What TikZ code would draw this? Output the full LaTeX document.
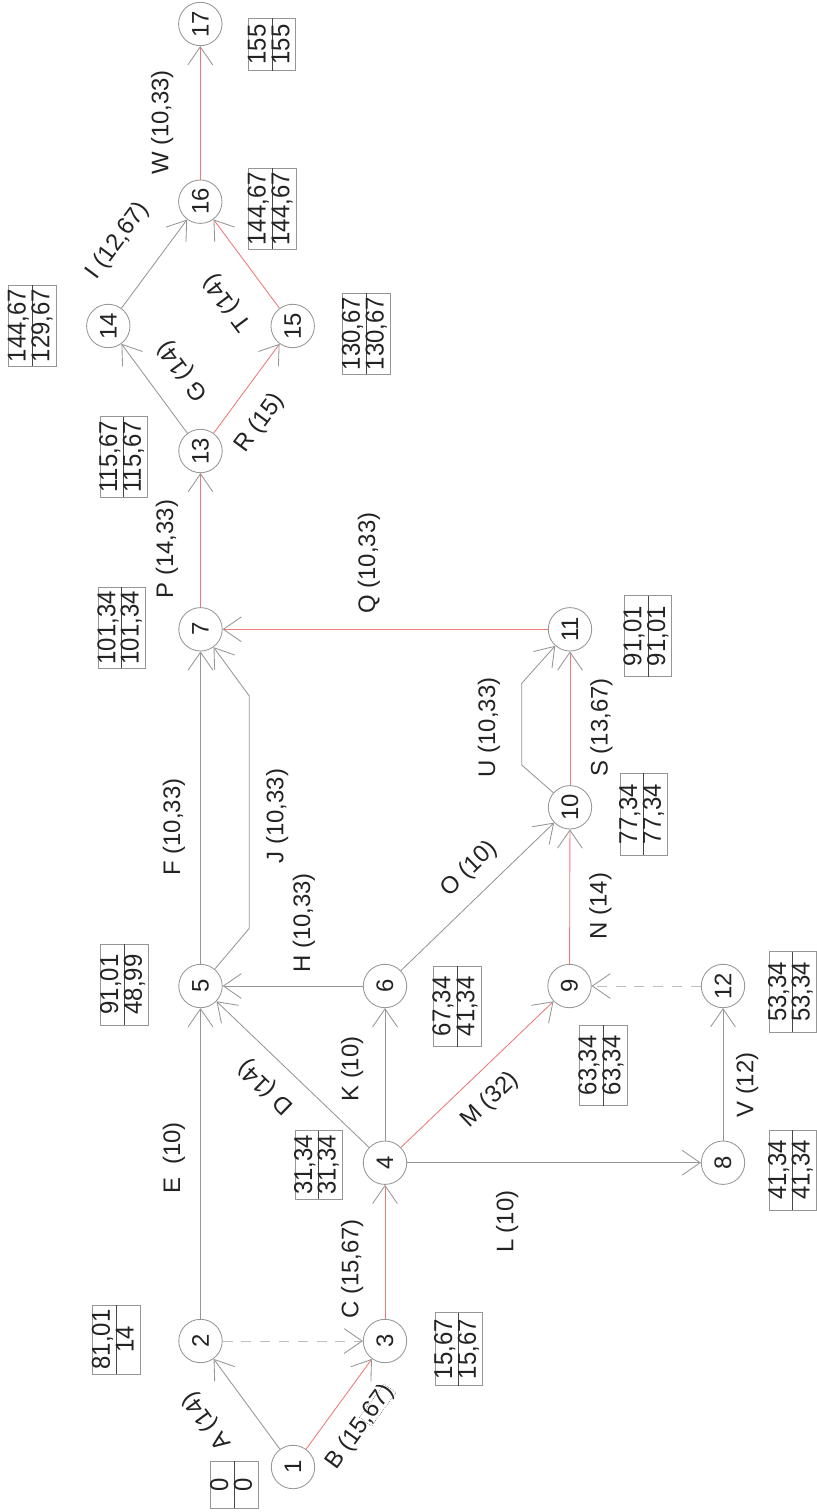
\documentclass[tikz,border=0pt]{standalone}
\usepackage{fontspec}
\setmainfont{Liberation Sans}
\usetikzlibrary{arrows.meta}
\definecolor{lgray}{RGB}{150,150,150}
\definecolor{lred}{RGB}{238,120,120}
\definecolor{dgray}{RGB}{190,190,190}
\definecolor{txt}{RGB}{35,35,35}
\definecolor{divc}{RGB}{70,70,70}
\newcommand\evbox[7]{%
  \draw[boxframe] (#2,#3) rectangle (#4,#5);
  \draw[boxdiv] ({(#2+#4)/2},#3) -- ({(#2+#4)/2},#5);
  \node[boxtxt] (#1a) at ({(3*#2+#4)/4},{(#3+#5)/2}) {\scalebox{1}[1.08]{#6}};
  \node[boxtxt] (#1b) at ({(#2+3*#4)/4},{(#3+#5)/2}) {\scalebox{1}[1.08]{#7}};
}
\begin{document}
\begin{tikzpicture}[x=0.025cm,y=-0.025cm,
  font=\fontsize{17}{20}\selectfont,
  ev/.style={circle, draw=lgray, line width=0.6pt, minimum size=1.085cm, inner sep=0pt, text=txt, rotate=90},
  arr/.style={-{Straight Barb[length=0.45cm, width=0.62cm, color=lgray, line width=0.6pt]}},
  gedge/.style={draw=lgray, line width=0.6pt, arr},
  redge/.style={draw=lred, line width=0.6pt, arr},
  dedge/.style={draw=dgray, line width=0.6pt, dash pattern=on 0.25cm off 0.22cm, arr},
  lbl/.style={text=txt, inner sep=0pt, text height=0.716em, text depth=0pt},
  vlbl/.style={lbl, rotate=90},
  boxframe/.style={draw=lgray, line width=0.6pt},
  boxdiv/.style={draw=divc, line width=0.5pt},
  boxtxt/.style={text=txt, inner sep=0pt, text height=0.77em, text depth=0pt, rotate=90},
]
\fill[white] (0,0) rectangle (816,1512);
\useasboundingbox (0,0) rectangle (816,1512);

% events
\node[ev] (n1) at (293,1467) {1};
\node[ev] (n2) at (200.5,1341) {2};
\node[ev] (n3) at (385,1341) {3};
\node[ev] (n4) at (385,1162.7) {4};
\node[ev] (n5) at (200.5,986) {5};
\node[ev] (n6) at (385,986) {6};
\node[ev] (n7) at (200.5,629.3) {7};
\node[ev] (n8) at (723,1162.7) {8};
\node[ev] (n9) at (569.5,986) {9};
\node[ev] (n10) at (570,807.3) {10};
\node[ev] (n11) at (570,629.3) {11};
\node[ev] (n12) at (723,986) {12};
\node[ev] (n13) at (200.5,451) {13};
\node[ev] (n14) at (108.3,326) {14};
\node[ev] (n15) at (292.7,326) {15};
\node[ev] (n16) at (200.3,201.7) {16};
\node[ev] (n17) at (200.3,24) {17};

\coordinate (j1) at (249.3,928.3);
\coordinate (j2) at (249.3,696);
\coordinate (u1) at (521.7,765);
\coordinate (u2) at (521.7,683.3);

% activities
\draw[gedge] (n1) -- (n2);
\draw[redge] (n1) -- (n3);
\draw[dedge] (n2) -- (n3);
\draw[redge] (n3) -- (n4);
\draw[gedge] (n2) -- (n5);
\draw[gedge] (n4) -- (n5);
\draw[gedge] (n4) -- (n6);
\draw[gedge] (n6) -- (n5);
\draw[gedge] (n4) -- (n8);
\draw[redge] (n4) -- (n9);
\draw[gedge] (n8) -- (n12);
\draw[dedge] (n12) -- (n9);
\draw[redge] (n9) -- (n10);
\draw[gedge] (n6) -- (n10);
\draw[gedge] (n5) -- (n7);
\draw[gedge] (n5) -- (j1) -- (j2) -- (n7);
\draw[gedge] (n10) -- (u1) -- (u2) -- (n11);
\draw[redge] (n10) -- (n11);
\draw[redge] (n11) -- (n7);
\draw[redge] (n7) -- (n13);
\draw[gedge] (n13) -- (n14);
\draw[redge] (n13) -- (n15);
\draw[gedge] (n14) -- (n16);
\draw[redge] (n15) -- (n16);
\draw[redge] (n16) -- (n17);

% activity labels
\node[lbl, rotate=126.2] (lA) at (208,1420) {A (14)};
\node[lbl, rotate=53.9] (lB) at (361,1428) {B (15,67)};
\node[rotate=53.9, anchor=east, draw=divc, densely dotted, line width=0.4pt, minimum width=2.95em, minimum height=1.05em, inner sep=0pt] (lBf) at (lB.east) {};
\node[vlbl] (lC) at (353.3,1269) {C (15,67)};
\node[lbl, rotate=136] (lD) at (266.7,1086) {D (14)};
\node[vlbl] (lE) at (175,1158) {E\ \ (10)};
\node[vlbl] (lF) at (175,827) {F (10,33)};
\node[lbl, rotate=126.3] (lG) at (184,370) {G (14)};
\node[vlbl] (lH) at (305,923) {H (10,33)};
\node[lbl, rotate=53.4] (lI) at (119,241.7) {I (12,67)};
\node[vlbl] (lJ) at (278.3,816) {J (10,33)};
\node[vlbl] (lK) at (353.3,1069) {K (10)};
\node[vlbl] (lL) at (508.3,1221.7) {L (10)};
\node[lbl, rotate=43.8] (lM) at (491,1101) {M (32)};
\node[vlbl] (lN) at (601.7,906) {N (14)};
\node[lbl, rotate=44] (lO) at (470,870) {O (10)};
\node[vlbl] (lP) at (168,549) {P (14,33)};
\node[vlbl] (lQ) at (370,563) {Q (10,33)};
\node[lbl, rotate=53.7] (lR) at (261,424) {R (15)};
\node[vlbl] (lS) at (602.7,727.5) {S (13,67)};
\node[lbl, rotate=126.9] (lT) at (229,302) {T (14)};
\node[vlbl] (lU) at (490,727.5) {U (10,33)};
\node[vlbl] (lV) at (748.3,1085) {V (12)};
\node[vlbl] (lW) at (163.3,122.5) {W (10,33)};

% event time boxes
\evbox{b1}{210.7}{1461}{258.3}{1508}{0}{0}
\evbox{b2}{92.7}{1305}{140}{1374}{81,01}{14}
\evbox{b3}{435}{1312.7}{482.3}{1385.7}{15,67}{15,67}
\evbox{b4}{295}{1130.7}{342}{1199}{31,34}{31,34}
\evbox{b5}{100.7}{944}{148.3}{1025}{91,01}{48,99}
\evbox{b6}{433}{966}{481}{1046.7}{67,34}{41,34}
\evbox{b9}{579}{1025}{627}{1105.7}{63,34}{63,34}
\evbox{b8}{769}{1130}{816}{1210}{41,34}{41,34}
\evbox{b12}{769}{951.7}{816}{1032}{53,34}{53,34}
\evbox{b10}{620}{773.3}{667.3}{855}{77,34}{77,34}
\evbox{b11}{624}{595.7}{671.7}{676.7}{91,01}{91,01}
\evbox{b7}{98.3}{587.3}{145}{668.3}{101,34}{101,34}
\evbox{b13}{100}{416.7}{147.3}{497.3}{115,67}{115,67}
\evbox{b15}{342.7}{293.3}{390}{374}{130,67}{130,67}
\evbox{b14}{8.3}{285}{56}{366}{144,67}{129,67}
\evbox{b16}{248.3}{168.3}{296}{249.3}{144,67}{144,67}
\evbox{b17}{248.3}{18.3}{295.7}{70.7}{155}{155}
\end{tikzpicture}
\end{document}
